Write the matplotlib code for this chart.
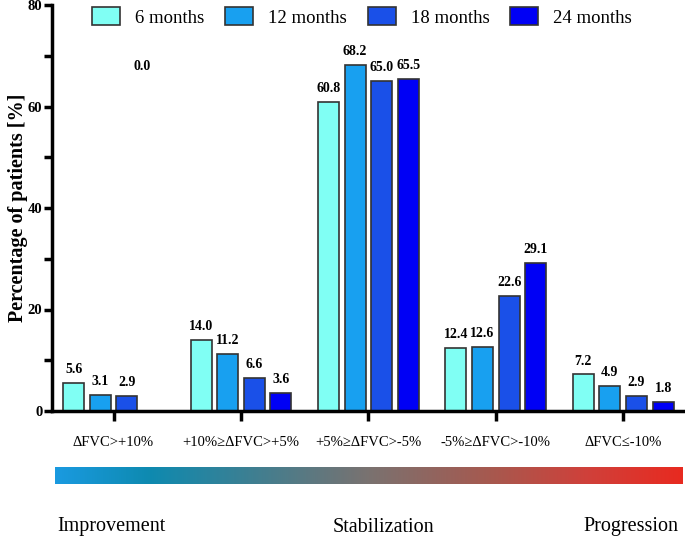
import numpy as np
import matplotlib
matplotlib.use("Agg")
import matplotlib.pyplot as plt
from matplotlib.colors import LinearSegmentedColormap

plt.rcParams['font.family'] = ['Liberation Serif', 'DejaVu Serif']

# data
categories = ["ΔFVC>+10%", "+10%≥ΔFVC>+5%", "+5%≥ΔFVC>-5%", "-5%≥ΔFVC>-10%", "ΔFVC≤-10%"]
series_names = ["6 months", "12 months", "18 months", "24 months"]
m6 = [5.6, 14.0, 60.8, 12.4, 7.2]
m12 = [3.1, 11.2, 68.2, 12.6, 4.9]
m18 = [2.9, 6.6, 65.0, 22.6, 2.9]
m24 = [0.0, 3.6, 65.5, 29.1, 1.8]
colors = ["#80FFF4", "#18A0F0", "#1A50E8", "#0000F5"]
stages = ["Improvement", "Stabilization", "Progression"]

W, H = 685, 539
fig = plt.figure(figsize=(W / 100, H / 100), dpi=100)
ax = fig.add_axes([52 / W, 1 - 411 / H, (W - 52) / W, 406 / H])

x = np.arange(len(categories))
width = 0.165
step = 0.209
for i, (name, vals) in enumerate(zip(series_names, [m6, m12, m18, m24])):
    pos = x + (i - 1.5) * step
    ax.bar(pos, vals, width, color=colors[i], edgecolor="#333333",
           linewidth=1.2, label=name, zorder=2)
    for xx, v in zip(pos, vals):
        if v == 0:
            # the 0.0 label floats high in the original
            ax.text(xx - 0.09, 67.8, f"{v:.1f}", ha="center", va="center",
                    fontsize=10, fontweight="bold")
        else:
            ax.annotate(f"{v:.1f}", (xx, v), xytext=(0, 5),
                        textcoords="offset points", ha="center", va="bottom",
                        fontsize=10, fontweight="bold")

ax.set_xlim(-0.483, 4.485)
ax.set_ylim(0, 80)
ax.set_xticks(x)
ax.set_xticklabels(categories, fontsize=10.5)
ax.set_yticks([0, 20, 40, 60, 80])
ax.set_yticks([10, 30, 50, 70], minor=True)
for lab in ax.get_yticklabels():
    lab.set_fontweight("bold")
    lab.set_fontsize(10.5)
ax.tick_params(axis="x", length=7, width=2.5, pad=11)
ax.tick_params(axis="y", which="both", length=6, width=2.5, pad=1)
ax.spines["top"].set_visible(False)
ax.spines["right"].set_visible(False)
ax.spines["left"].set_linewidth(2.5)
ax.spines["bottom"].set_linewidth(2.5)
ax.set_ylabel("Percentage of patients [%]", fontsize=14.5, fontweight="bold",
              labelpad=0)

fig.legend(loc="center", bbox_to_anchor=(362 / W, 1 - 17 / H), ncol=4,
           frameon=False, fontsize=13.5, handlelength=1.5, handleheight=1.1,
           handletextpad=0.8, columnspacing=1.1)

# gradient strip
gax = fig.add_axes([55 / W, 1 - 484 / H, 628 / W, 17 / H])
cmap = LinearSegmentedColormap.from_list("prog", [
    (0.0, "#1A9AE0"), (0.15, "#0E8AB0"), (0.3, "#3A8094"),
    (0.5, "#7A7270"), (0.7, "#A8584E"), (0.85, "#D0403A"), (1.0, "#E82A20")])
gax.imshow(np.linspace(0, 1, 256)[None, :], aspect="auto", cmap=cmap)
gax.axis("off")

for s, xp, ha in zip(stages, [57, 383, 678], ["left", "center", "right"]):
    fig.text(xp / W, 1 - 527 / H, s, ha=ha, va="center", fontsize=14.5)

fig.savefig("out.png", dpi=100)
